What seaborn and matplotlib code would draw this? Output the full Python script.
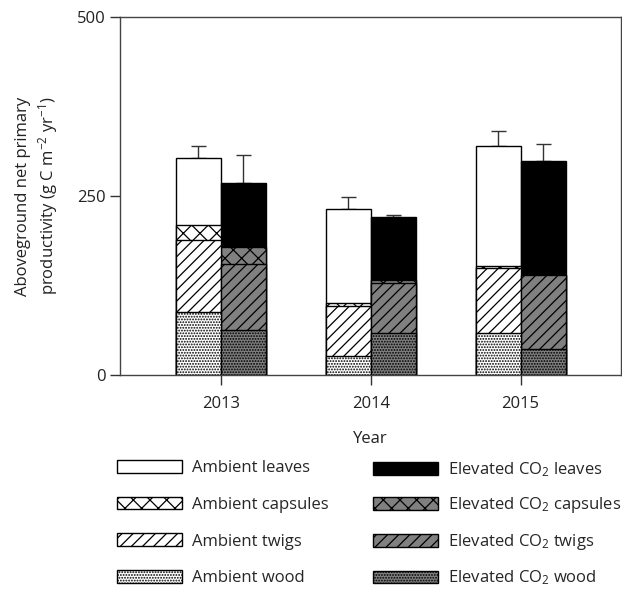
import numpy as np
import pandas as pd
import matplotlib
matplotlib.use("Agg")
import matplotlib.pyplot as plt
from matplotlib.patches import Patch
import seaborn as sns

# values (g C m-2 yr-1)
years = ["2013", "2014", "2015"]
amb_wood = [88, 26, 58]
amb_twigs = [100, 70, 92]
amb_capsules = [21, 4, 2]
amb_leaves = [94, 132, 168]
amb_se = [17, 17, 21]
elev_wood = [63, 58, 37]
elev_twigs = [92, 70, 102]
elev_capsules = [24, 4, 1]
elev_leaves = [89, 88, 159]
elev_se = [39, 3, 24]

components = ["wood", "twigs", "capsules", "leaves"]
hatches = {"wood": "......", "twigs": "///", "capsules": "xx", "leaves": ""}
grey = "#808080"
FS = 12

sns.set_theme(style="ticks")
plt.rcParams["font.family"] = ["Open Sans", "DejaVu Sans"]
plt.rcParams["mathtext.fontset"] = "custom"
plt.rcParams["mathtext.rm"] = "Open Sans"
plt.rcParams["mathtext.it"] = "Open Sans:italic"
plt.rcParams["hatch.linewidth"] = 0.9
plt.rcParams["hatch.color"] = "black"

# long table with cumulative heights per component
rows = []
for treat, parts in [("Ambient", [amb_wood, amb_twigs, amb_capsules, amb_leaves]),
                     ("Elevated", [elev_wood, elev_twigs, elev_capsules, elev_leaves])]:
    cum = np.cumsum(np.array(parts), axis=0)
    for ci, comp in enumerate(components):
        for yi, yr in enumerate(years):
            rows.append({"year": yr, "treatment": treat, "component": comp,
                         "top": cum[ci, yi]})
df = pd.DataFrame(rows)

fig = plt.figure(figsize=(6.22, 5.89), dpi=100)
ax = fig.add_axes([120 / 622, 1 - 375 / 589, 501 / 622, 358 / 589])

top_patches = {}
# draw tallest layer first, then overlay the lower ones
for comp in reversed(components):
    pal = {"Ambient": "white", "Elevated": "black" if comp == "leaves" else grey}
    n_before = len(ax.containers)
    sns.barplot(data=df[df.component == comp], x="year", y="top", hue="treatment",
                hue_order=["Ambient", "Elevated"], order=years, palette=pal,
                width=0.6, dodge=True, errorbar=None, legend=False,
                edgecolor="black", linewidth=1, saturation=1, ax=ax)
    for cont in ax.containers[n_before:]:
        for p in cont.patches:
            p.set_hatch(hatches[comp])
    if comp == "leaves":
        top_patches = {"Ambient": ax.containers[n_before], "Elevated": ax.containers[n_before + 1]}

# upward-only standard error bars
for treat, se in [("Ambient", amb_se), ("Elevated", elev_se)]:
    ps = top_patches[treat].patches
    xs = [p.get_x() + p.get_width() / 2 for p in ps]
    ys = [p.get_height() for p in ps]
    ax.errorbar(xs, ys, yerr=[np.zeros(len(se)), se], fmt="none",
                ecolor="#333333", elinewidth=1, capsize=5.4, capthick=1, zorder=0.5)

ax.set_xlim(-0.673, 2.67)
ax.set_ylim(0, 500)
ax.set_yticks([0, 250, 500])
ax.set_xlabel("Year", fontsize=FS, color="#222222", labelpad=14)
ax.set_ylabel("Aboveground net primary\nproductivity (g C m$^{-2}$ yr$^{-1}$)",
              fontsize=FS, color="#222222", labelpad=12, linespacing=1.3)
ax.tick_params(axis="both", labelsize=FS, colors="#333333", labelcolor="#222222",
               direction="out", length=7, width=1)
ax.tick_params(axis="x", pad=8)
for s in ax.spines.values():
    s.set_linewidth(1)
    s.set_color("#444444")

# two legend columns, placed separately so their rows line up
for treat, x0, spacing in [("Ambient", 117, 1.23), ("Elevated", 373, 1.0)]:
    handles, labels = [], []
    for comp in reversed(components):
        if treat == "Ambient":
            fc = "white"
            lab = f"Ambient {comp}"
        else:
            fc = "black" if comp == "leaves" else grey
            lab = f"Elevated CO$_2$ {comp}"
        handles.append(Patch(facecolor=fc, edgecolor="black", hatch=hatches[comp], linewidth=1))
        labels.append(lab)
    leg = fig.legend(handles, labels, loc="upper left",
                     bbox_to_anchor=(x0 / 622, 1 - 460 / 589), frameon=False,
                     fontsize=FS, handlelength=3.9, handleheight=0.8,
                     handletextpad=0.6, labelspacing=spacing,
                     borderpad=0, borderaxespad=0)

fig.savefig("out.png", dpi=100)
